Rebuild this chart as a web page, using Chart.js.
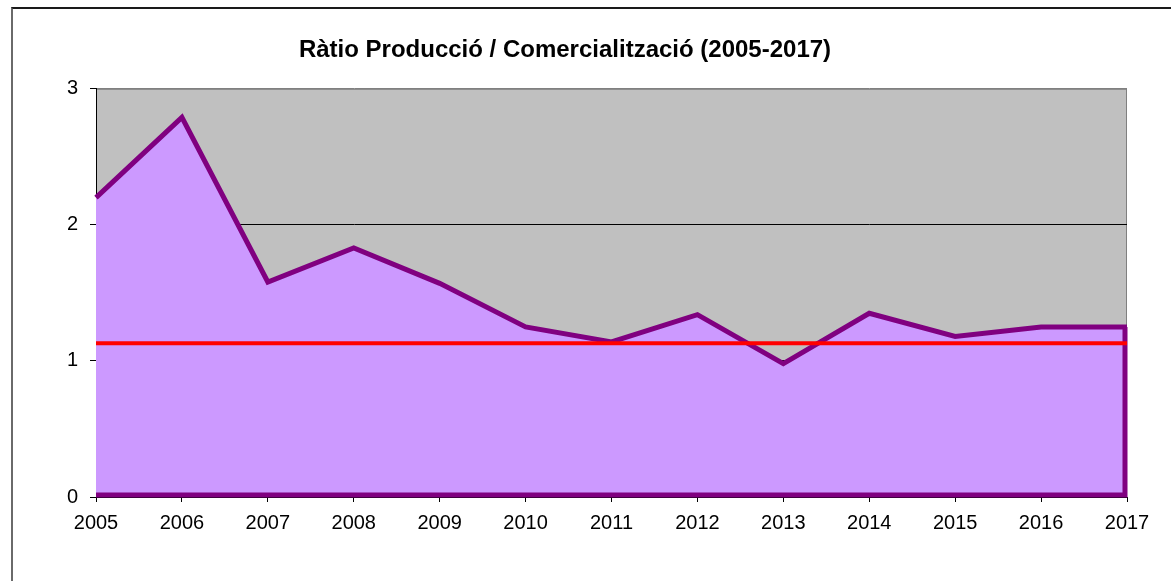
<!DOCTYPE html>
<html>
<head>
<meta charset="utf-8">
<script src="https://cdn.jsdelivr.net/npm/chart.js@4.4.1/dist/chart.umd.min.js"></script>
<style>
  body { margin: 0; background: #fff; }
  .frame { position: absolute; left: 11px; top: 7px; width: 2000px; height: 2000px;
           border-top: 2px solid #1a1a1a; border-left: 2px solid #6a6a6a; }
  #chartRatio { position: absolute; left: 0; top: 0; }
</style>
</head>
<body>
<div class="frame"></div>
<canvas id="chartRatio" width="1171" height="581"></canvas>

<script>
// values
const years = ['2005', '2006', '2007', '2008', '2009', '2010', '2011',
               '2012', '2013', '2014', '2015', '2016', '2017'];
const ratio = [2.20, 2.79, 1.58, 1.83, 1.57, 1.25, 1.14, 1.34, 0.98, 1.35, 1.18, 1.25, 1.25];
const refLine = [1.13, 1.13, 1.13, 1.13, 1.13, 1.13, 1.13, 1.13, 1.13, 1.13, 1.13, 1.13, 1.13];
const yTicks = [0, 1, 2, 3];

const fontFamily = "'Liberation Sans', Arial, sans-serif";

// grey plot background + thin border around it
const plotBack = {
    id: 'plotBack',
    beforeDraw(chart) {
        const a = chart.chartArea, ctx = chart.ctx;
        ctx.save();
        ctx.fillStyle = '#C0C0C0';
        ctx.fillRect(a.left, a.top, a.right - a.left, a.bottom - a.top);
        ctx.strokeStyle = '#808080';
        ctx.lineWidth = 1;
        ctx.strokeRect(a.left + 0.5, a.top + 0.5, a.right - a.left - 1, a.bottom - a.top - 1);
        ctx.restore();
    }
};

// close the area outline: down the last year and along the base
const areaEdge = {
    id: 'areaEdge',
    afterDatasetDraw(chart, args) {
        if (args.index !== 0) return;
        const pts = args.meta.data;
        const yScale = chart.scales.y;
        const base = yScale.getPixelForValue(0) - 2;
        const last = pts[pts.length - 1];
        const ctx = chart.ctx;
        ctx.save();
        ctx.strokeStyle = '#800080';
        ctx.lineWidth = 5;
        ctx.lineJoin = 'miter';
        ctx.beginPath();
        ctx.moveTo(last.x - 2, last.y);
        ctx.lineTo(last.x - 2, base);
        ctx.lineTo(pts[0].x, base);
        ctx.stroke();
        ctx.restore();
    }
};

new Chart(document.getElementById('chartRatio'), {
    type: 'line',
    data: {
        labels: years,
        datasets: [{
            label: 'Ràtio',
            data: ratio,
            fill: 'origin',
            backgroundColor: '#CC99FF',
            borderColor: '#800080',
            borderWidth: 5,
            pointRadius: 0,
            tension: 0,
            order: 1
        }, {
            label: 'Mitjana',
            data: refLine,
            fill: false,
            borderColor: '#FF0000',
            borderWidth: 4,
            pointRadius: 0,
            tension: 0,
            order: 0
        }]
    },
    options: {
        responsive: false,
        animation: false,
        devicePixelRatio: 1,
        layout: { padding: { left: 3, right: 44, top: 20, bottom: 37 } },
        plugins: {
            legend: { display: false },
            tooltip: { enabled: false },
            title: {
                display: true,
                text: 'Ràtio Producció / Comercialització (2005-2017)',
                color: '#000',
                font: { family: fontFamily, size: 24, weight: 'bold' },
                padding: { top: 16, bottom: 24 }
            }
        },
        scales: {
            x: {
                offset: false,
                border: { color: '#000', width: 1 },
                grid: { drawOnChartArea: false, tickLength: 5, tickColor: '#000' },
                ticks: {
                    color: '#000',
                    padding: 9,
                    maxRotation: 0,
                    autoSkip: false,
                    font: { family: fontFamily, size: 20 }
                }
            },
            y: {
                min: 0,
                max: 3,
                afterFit(scale) { scale.width = 93; },
                afterBuildTicks(scale) { scale.ticks = yTicks.map(v => ({ value: v })); },
                border: { color: '#000', width: 1 },
                grid: {
                    tickLength: 6,
                    tickColor: '#000',
                    color: ctx => (ctx.tick && ctx.tick.value === 3) ? '#808080' : '#000'
                },
                ticks: {
                    color: '#000',
                    padding: 12,
                    font: { family: fontFamily, size: 20 }
                }
            }
        }
    },
    plugins: [plotBack, areaEdge]
});
</script>
</body>
</html>
